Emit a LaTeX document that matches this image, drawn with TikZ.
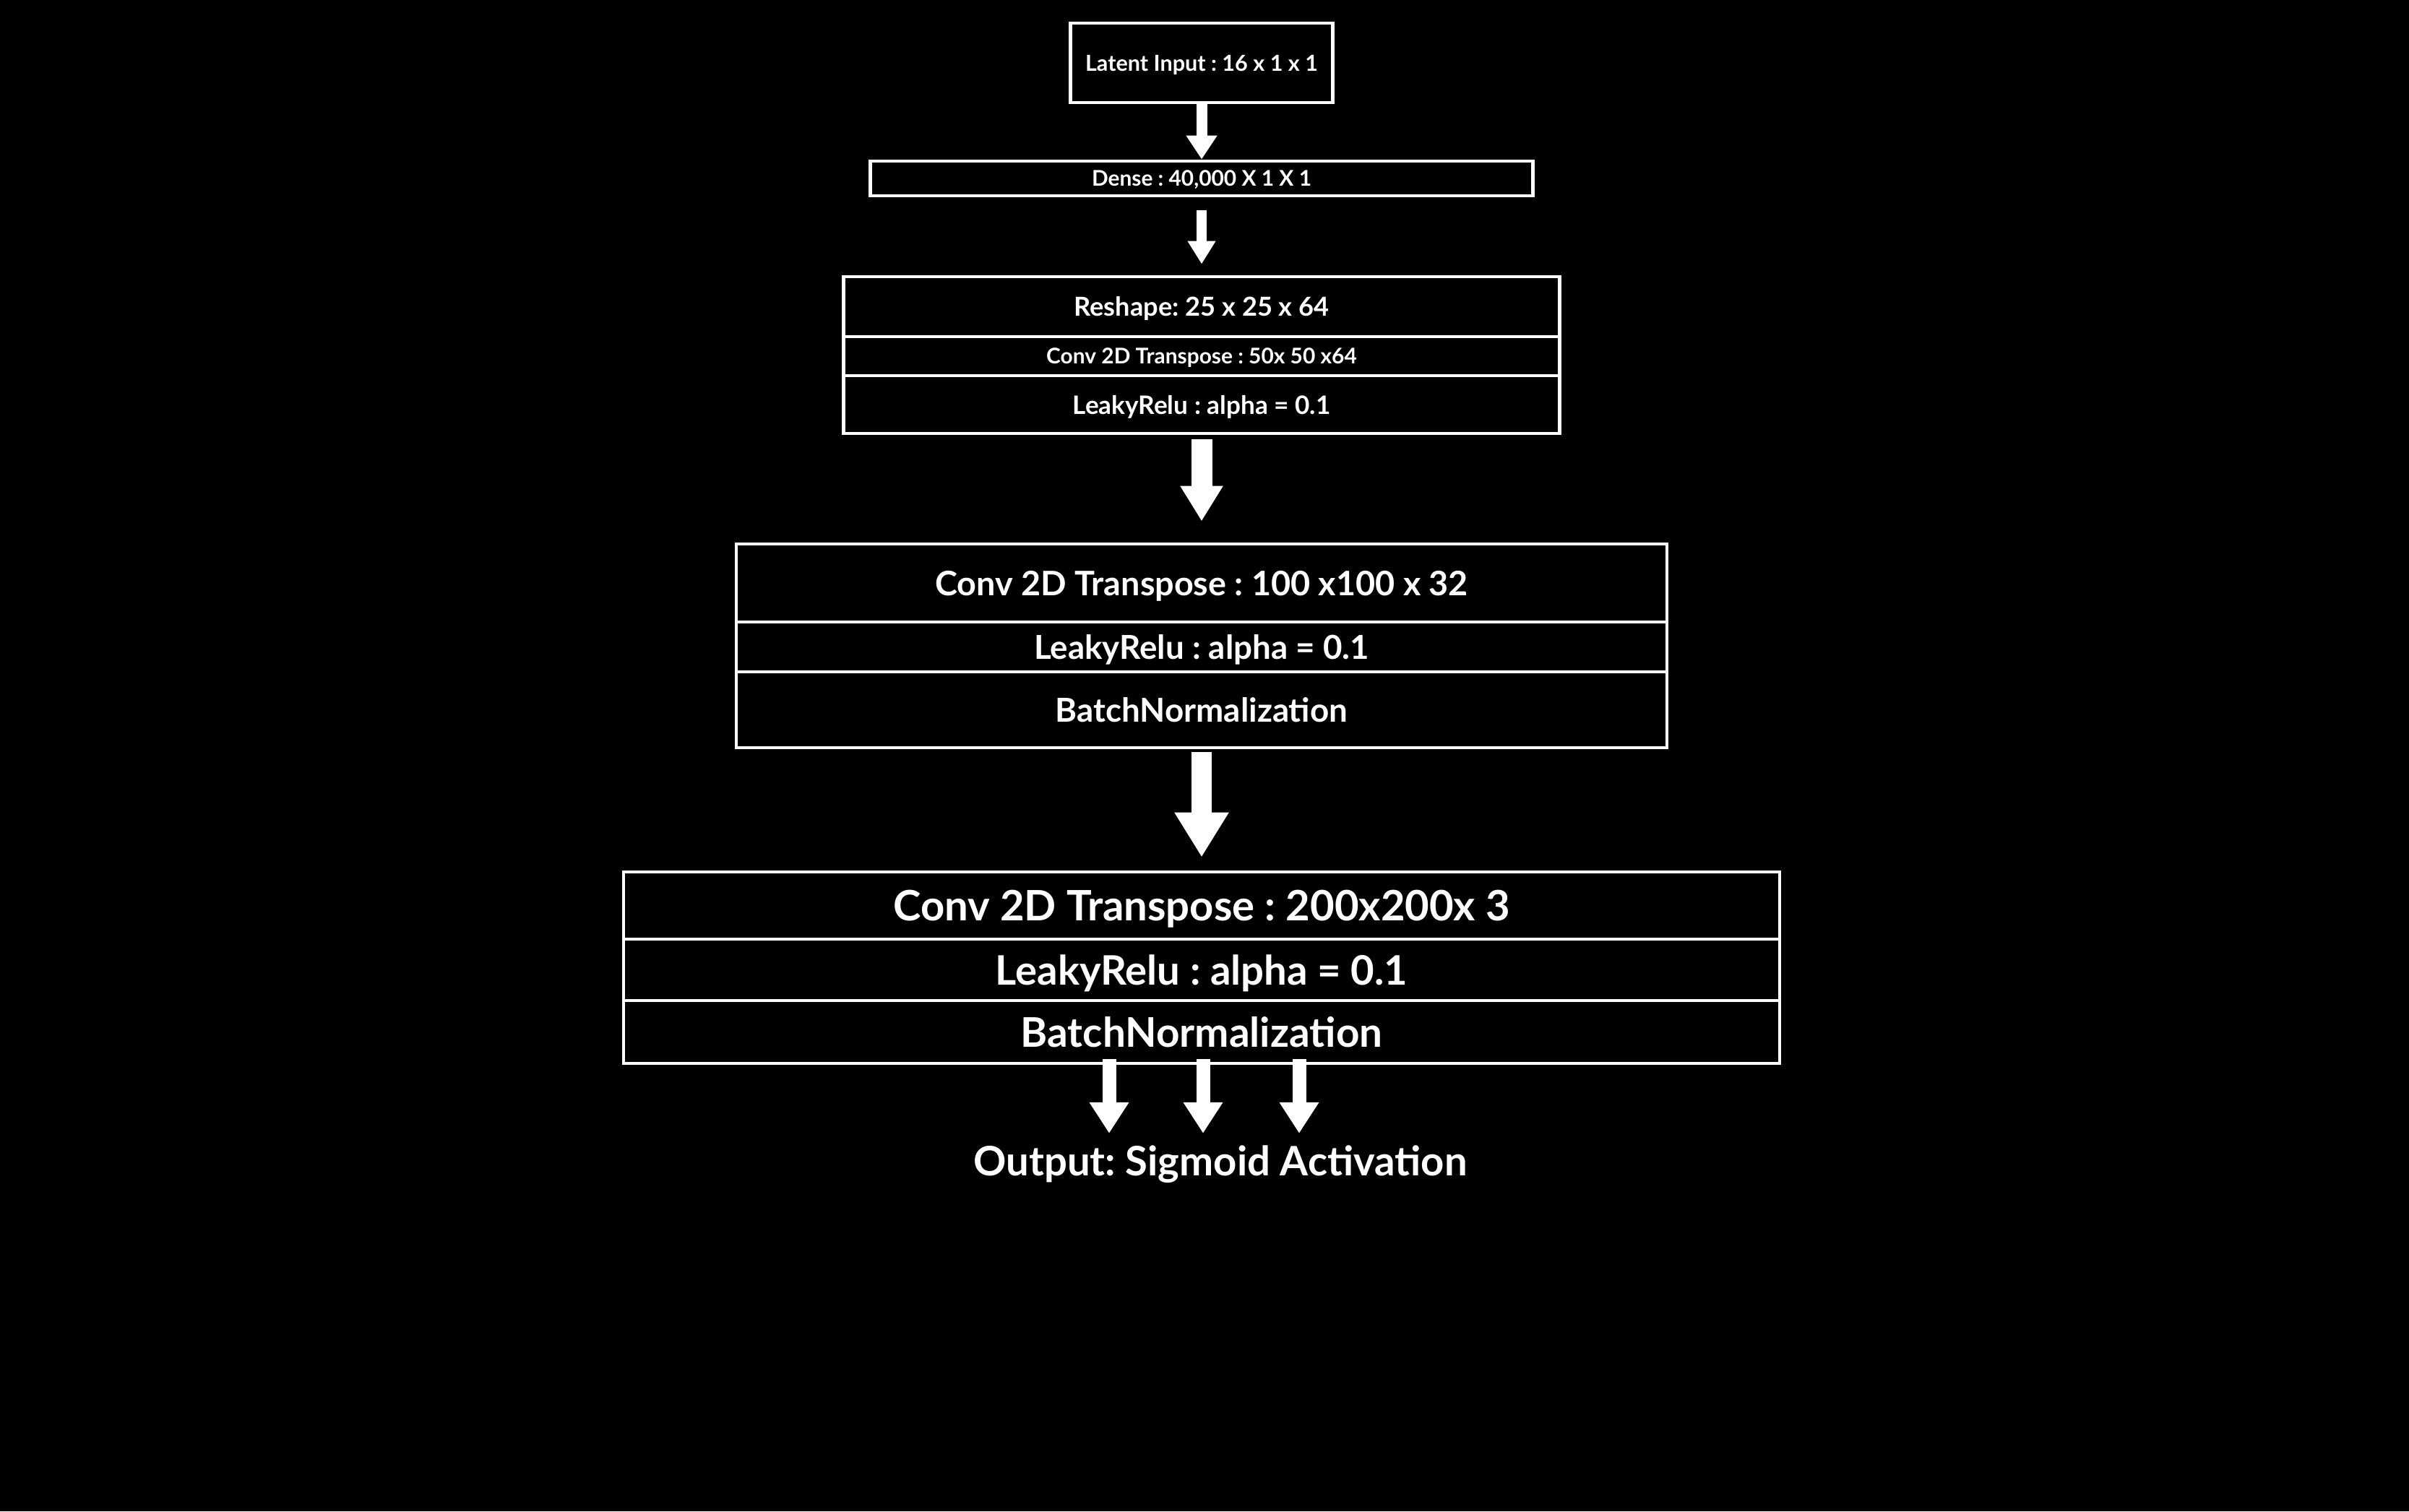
\documentclass[tikz,border=0pt]{standalone}
\usepackage{fontspec}
\setmainfont{Lato}
\usepackage{tikz}
\usetikzlibrary{arrows.meta}
\frenchspacing

\begin{document}
\begin{tikzpicture}[thick, every node/.style={text=white, inner sep=0pt, font=\bfseries},
    layer/.style={draw=white, line width=1.4pt, align=center, text depth=0pt},
    flow/.style n args={3}{draw=white, line width=#1, -{Triangle[width=#2, length=#3]}}]

  % Background
  \fill[black] (0,0) rectangle (33.34,20.92);
  \useasboundingbox (0,0) rectangle (33.34,20.92);

  % Input and dense layer
  \node[layer, minimum width=3.63cm, minimum height=1.10cm] (latent) at (16.63,20.05)
    {\fontsize{8.7}{10}\selectfont Latent Input : 16 x 1 x 1};
  \node[layer, minimum width=9.17cm, minimum height=0.48cm] (dense) at (16.63,18.45)
    {\fontsize{8.5}{10}\selectfont Dense : 40,000 X 1 X 1};

  % First block
  \node[layer, minimum width=9.91cm, minimum height=0.83cm] (reshape) at (16.63,16.675)
    {\fontsize{10.3}{12}\selectfont Reshape: 25 x 25 x 64};
  \node[layer, minimum width=9.91cm, minimum height=0.54cm] (convA) at (16.63,15.99)
    {\fontsize{8.5}{10}\selectfont Conv 2D Transpose : 50x 50 x64};
  \node[layer, minimum width=9.91cm, minimum height=0.80cm] (leakyA) at (16.63,15.32)
    {\fontsize{10}{12}\selectfont LeakyRelu : alpha = 0.1};

  % Second block
  \node[layer, minimum width=12.88cm, minimum height=1.08cm] (convB) at (16.63,12.85)
    {\fontsize{13.3}{16}\selectfont Conv 2D Transpose : 100 x100 x 32};
  \node[layer, minimum width=12.88cm, minimum height=0.69cm] (leakyB) at (16.63,11.965)
    {\fontsize{13}{15}\selectfont LeakyRelu : alpha = 0.1};
  \node[layer, minimum width=12.88cm, minimum height=1.05cm] (batchB) at (16.63,11.095)
    {\fontsize{13}{15}\selectfont BatchNormalization};

  % Third block
  \node[layer, minimum width=16.0cm, minimum height=0.93cm] (convC) at (16.63,8.385)
    {\fontsize{16.5}{19}\selectfont Conv 2D Transpose : 200x200x 3};
  \node[layer, minimum width=16.0cm, minimum height=0.85cm] (leakyC) at (16.63,7.495)
    {\fontsize{16}{19}\selectfont LeakyRelu : alpha = 0.1};
  \node[layer, minimum width=16.0cm, minimum height=0.87cm] (batchC) at (16.63,6.635)
    {\fontsize{16.1}{19}\selectfont BatchNormalization};

  % Output label
  \node[anchor=base] (output) at (16.89,4.65)
    {\fontsize{16}{19}\selectfont Output: Sigmoid Activation};

  % Draw arrows
  \draw[flow={0.15cm}{0.41cm}{0.33cm}] (latent) -- (dense);
  \draw[flow={0.14cm}{0.37cm}{0.32cm}, shorten <=0.18cm, shorten >=0.15cm] (dense) -- (reshape);
  \draw[flow={0.29cm}{0.56cm}{0.49cm}, shorten <=0.06cm, shorten >=0.29cm] (leakyA) -- (convB);
  \draw[flow={0.28cm}{0.71cm}{0.62cm}, shorten <=0.04cm, shorten >=0.18cm] (batchB) -- (convC);
  \foreach \dx in {-1.28,0.02,1.35}
    \draw[flow={0.19cm}{0.52cm}{0.43cm}, shorten <=-0.08cm, shorten >=0.15cm]
      ([xshift=\dx cm]batchC.south) -- ([xshift=\dx cm]batchC.south |- output.north);

\end{tikzpicture}
\end{document}
